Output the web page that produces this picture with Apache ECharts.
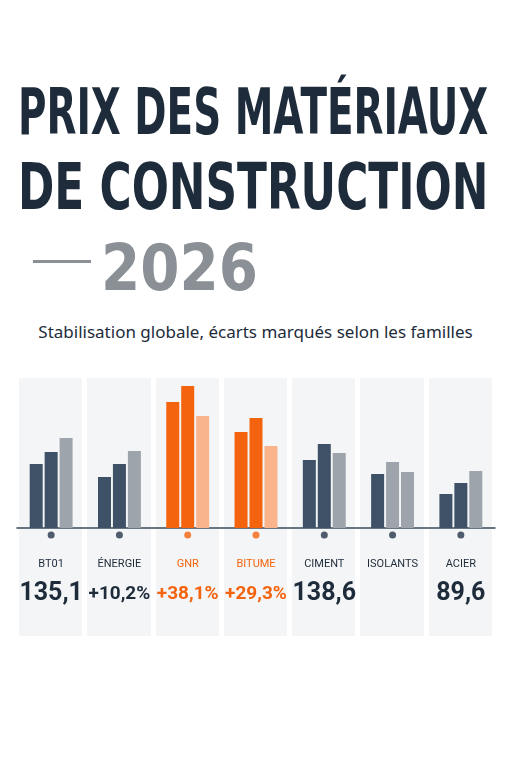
<!DOCTYPE html>
<html>
<head>
<meta charset="utf-8">
<script src="https://cdn.jsdelivr.net/npm/echarts@6/dist/echarts.min.js"></script>
<style>
  body { margin: 0; background: #fff; width: 511px; height: 768px; overflow: hidden; font-family: 'DejaVu Sans', sans-serif; }
  .title { position: absolute; left: 0; white-space: nowrap; font-weight: bold; color: #1d2b3a; font-size: 64px; line-height: 64px; transform-origin: 0 0; }
  #dash { position: absolute; left: 33px; top: 260px; width: 58px; height: 3px; background: #8a9096; }
  #sub { position: absolute; left: 0; width: 511px; top: 320px; text-align: center; font-family: 'Noto Sans', sans-serif; font-size: 17px; color: #1d2b3a; }
  .panel { position: absolute; top: 378px; height: 258px; background: #f4f5f6; }
  #chart { position: absolute; left: 0; top: 0; width: 511px; height: 768px; }
</style>
</head>
<body>
<div class="title" id="t1" style="top:80px">PRIX DES MATÉRIAUX</div>
<div class="title" id="t2" style="top:155px">DE CONSTRUCTION</div>
<div class="title" id="t3" style="top:236px; color:#8a9096">2026</div>
<div id="dash"></div>
<div id="sub">Stabilisation globale, écarts marqués selon les familles</div>
<div id="panels"></div>
<div id="chart"></div>
<script>
var categories = ['BT01', 'ÉNERGIE', 'GNR', 'BITUME', 'CIMENT', 'ISOLANTS', 'ACIER'];
var headline = ['135,1', '+10,2%', '+38,1%', '+29,3%', '138,6', '', '89,6'];
var highlight = [false, false, true, true, false, false, false];
var serie1 = [64, 51, 126, 96, 68, 54, 34];
var serie2 = [76, 64, 142, 110, 84, 66, 45];
var serie3 = [90, 77, 112, 82, 75, 56, 57];

var DARK = '#3e5166', GRAY = '#9da4ab', ORANGE = '#f4640f', LORANGE = '#f9b48c';

// titre condensé : on compresse chaque ligne à sa largeur cible
[['t1', 18, 470], ['t2', 18, 470], ['t3', 101, 157]].forEach(function (t) {
    var el = document.getElementById(t[0]);
    var w = el.scrollWidth;
    el.style.left = t[1] + 'px';
    el.style.transform = 'scaleX(' + (t[2] / w) + ')';
});

// panneaux de fond
var panelBox = document.getElementById('panels');
var left = 17, right = 495, step = (right - left) / categories.length;
categories.forEach(function (c, i) {
    var d = document.createElement('div');
    d.className = 'panel';
    d.style.left = (left + i * step + 2) + 'px';
    d.style.width = (step - 5) + 'px';
    panelBox.appendChild(d);
});

function colorsFor(i, k) {
    if (highlight[i]) return k === 2 ? LORANGE : ORANGE;
    if (k === 2) return GRAY;
    if (categories[i] === 'ISOLANTS' && k === 1) return GRAY;
    return DARK;
}

function barSeries(values, k) {
    return {
        type: 'bar',
        barWidth: 13,
        barGap: '15%',
        data: values.map(function (v, i) {
            return { value: v, itemStyle: { color: colorsFor(i, k) } };
        })
    };
}

var myChart = echarts.init(document.getElementById('chart'));
var option = {
    animation: false,
    grid: { left: left, right: 511 - right, top: 378, bottom: 233 },
    xAxis: {
        type: 'category',
        data: categories,
        axisTick: { show: false },
        axisLine: { lineStyle: { color: '#3a4a5a', width: 1.5 } },
        axisLabel: {
            margin: 14,
            interval: 0,
            formatter: function (v, i) {
                var h = highlight[i] ? 'o' : 'd';
                var val = headline[i].indexOf('%') >= 0 ? 'p' : 'v';
                return '{' + h + 'n|' + v + '}\n{' + h + val + '|' + headline[i] + '}';
            },
            rich: {
                dn: { fontFamily: 'Roboto', fontSize: 11, color: '#1d2b3a', lineHeight: 30 },
                on: { fontFamily: 'Roboto', fontSize: 11, color: ORANGE, lineHeight: 30 },
                dv: { fontFamily: 'Roboto', fontSize: 25, fontWeight: 'bold', color: '#1d2b3a', lineHeight: 30 },
                dp: { fontFamily: 'Roboto', fontSize: 19, fontWeight: 'bold', color: '#1d2b3a', lineHeight: 30 },
                op: { fontFamily: 'Roboto', fontSize: 19, fontWeight: 'bold', color: ORANGE, lineHeight: 30 }
            }
        }
    },
    yAxis: { type: 'value', min: -7, max: 150, show: false, splitLine: { show: false } },
    series: [
        barSeries(serie1, 0),
        barSeries(serie2, 1),
        barSeries(serie3, 2),
        {
            type: 'scatter',
            symbolSize: 7,
            clip: false,
            z: 5,
            data: categories.map(function (c, i) {
                return { value: [i, -7], itemStyle: { color: highlight[i] ? ORANGE : '#25364a' } };
            })
        }
    ]
};
myChart.setOption(option, true);
</script>
</body>
</html>
